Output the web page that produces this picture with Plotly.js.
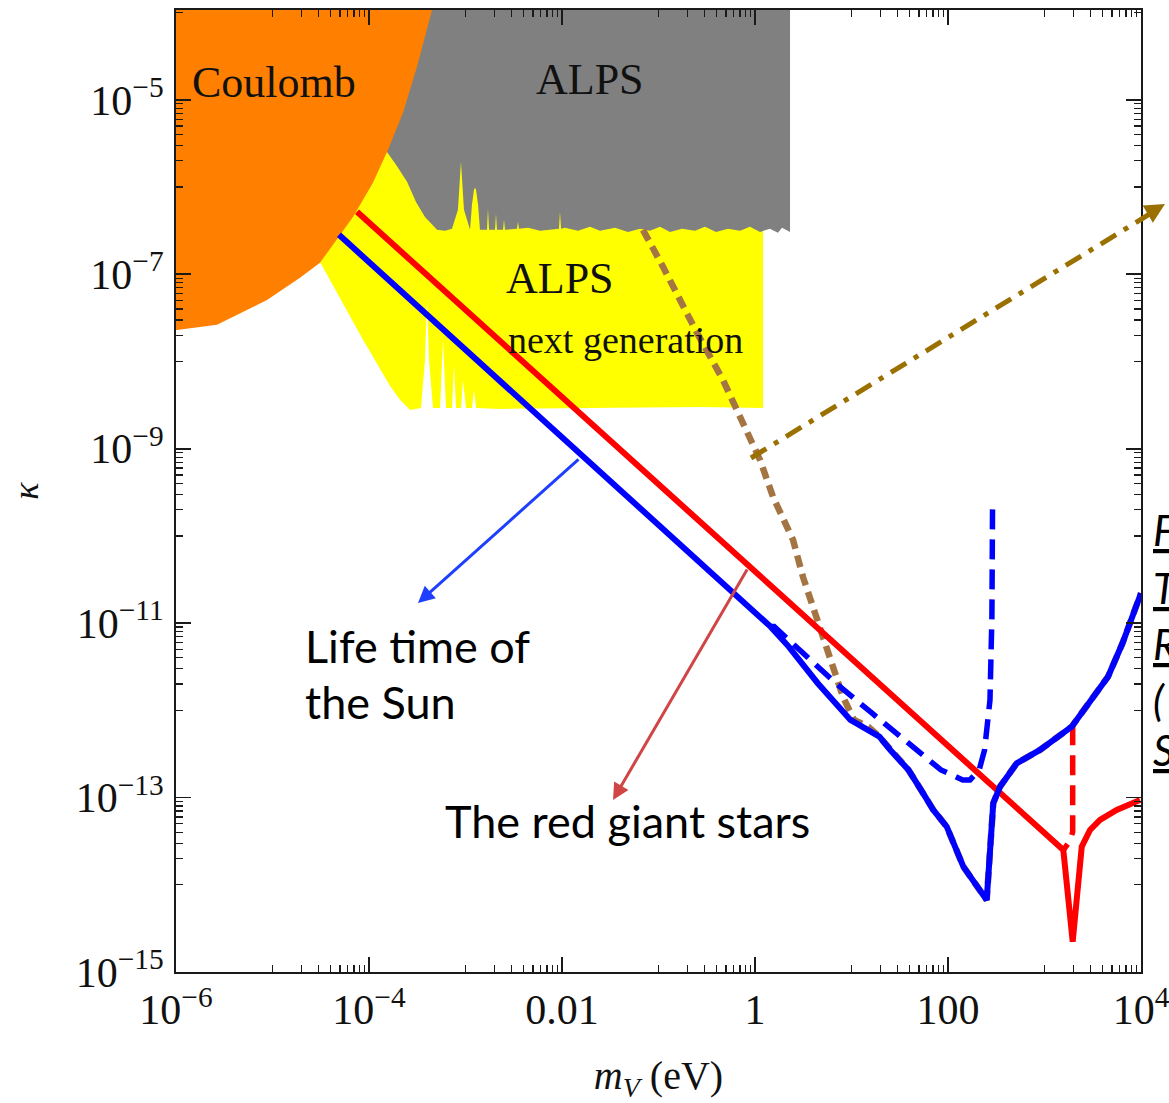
<!DOCTYPE html>
<html>
<head>
<meta charset="utf-8">
<script src="https://cdn.plot.ly/plotly-3.0.1.min.js"></script>
<style>
  html, body { margin: 0; padding: 0; background: #fff; }
  #chart { width: 1169px; height: 1103px; }
</style>
</head>
<body>
<div id="chart"></div>
<script>
// ---- Data (log10 of m_V in eV, log10 of kappa) ----

// Coulomb excluded region (orange)
const coulombLogM = [-7, -5.99, -5.575, -5.409, -5.057, -4.715, -4.508, -4.166, -3.959, -3.803, -3.648, -3.503, -3.347, -3.264, -7];
const coulombLogK = [-7.64, -7.638, -7.580, -7.489, -7.294, -7.041, -6.869, -6.342, -5.952, -5.573, -5.149, -4.622, -3.968, -3.62, -3.62];

// ALPS excluded region (grey)
const alpsLogM = [0.363, 0.363, 0.280, 0.238, 0.155, 0.052, -0.052, -0.155, -0.280, -0.404, -0.518, -0.622, -0.756, -0.881, -0.984, -1.088, -1.192, -1.316, -1.451, -1.606, -1.710, -1.834, -1.969, -2.010, -2.021, -2.031, -2.228, -2.352, -2.446, -2.456, -2.466, -2.591, -2.601, -2.611, -2.674, -2.684, -2.694, -2.756, -2.767, -2.777, -2.850, -2.870, -2.891, -2.902, -2.912, -2.933, -2.953, -3.016, -3.047, -3.078, -3.140, -3.212, -3.295, -3.420, -3.513, -3.606, -3.720, -3.845, -3.990, -4.301, -4.404];
const alpsLogK = [-3.5, -6.514, -6.468, -6.525, -6.479, -6.514, -6.456, -6.502, -6.479, -6.514, -6.456, -6.502, -6.479, -6.514, -6.456, -6.502, -6.479, -6.514, -6.468, -6.502, -6.456, -6.502, -6.468, -6.479, -6.284, -6.479, -6.502, -6.468, -6.479, -6.399, -6.479, -6.491, -6.376, -6.491, -6.491, -6.307, -6.491, -6.491, -6.250, -6.491, -6.491, -6.204, -6.032, -6.009, -6.032, -6.204, -6.491, -6.261, -5.711, -6.261, -6.479, -6.502, -6.491, -6.342, -6.170, -5.940, -5.745, -5.550, -5.000, -3.968, -3.509];

// ALPS next generation reach (yellow)
const alpsNgLogM = [0.083, 0.083, -0.570, -1.606, -2.642, -2.891, -2.912, -2.933, -2.995, -3.026, -3.047, -3.098, -3.119, -3.140, -3.202, -3.233, -3.264, -3.337, -3.378, -3.399, -3.420, -3.461, -3.575, -3.679, -3.782, -4.062, -4.508, -4.715, -4.404];
const alpsNgLogK = [-5.229, -8.532, -8.521, -8.532, -8.544, -8.532, -8.326, -8.532, -8.532, -8.211, -8.532, -8.532, -8.039, -8.532, -8.532, -7.752, -8.532, -8.532, -7.982, -7.294, -7.982, -8.532, -8.555, -8.440, -8.280, -7.752, -6.858, -6.548, -5.229];

// Red giant stars bound (red solid)
const redGiantLogM = [-4.124, 3.195, 3.292, 3.386, 3.472, 3.575, 3.748, 3.990];
const redGiantLogK = [-6.284, -13.601, -14.653, -13.563, -13.372, -13.257, -13.142, -13.028];

// Red giant, dashed branch
const redDashLogM = [3.292, 3.292, 3.264, 3.212, 3.195];
const redDashLogK = [-12.17, -13.394, -13.498, -13.578, -13.601];

// Lifetime of the Sun bound (blue solid)
const sunLogM = [-4.311, 0.0, 0.161, 0.349, 0.650, 0.989, 1.101, 1.289, 1.402, 1.590, 1.741, 1.848, 1.987, 2.159, 2.401, 2.469, 2.539, 2.712, 2.953, 3.282, 3.658, 3.808, 4.0];
const sunLogK = [-6.548, -10.86, -11.040, -11.269, -11.689, -12.110, -12.187, -12.302, -12.454, -12.683, -12.949, -13.142, -13.334, -13.792, -14.174, -13.065, -12.875, -12.607, -12.454, -12.187, -11.614, -11.231, -10.657];

// Sun, dashed branch (blue dashed)
const sunDashLogM = [0.161, 0.199, 0.500, 0.837, 1.213, 1.590, 1.927, 2.153, 2.228, 2.323, 2.379, 2.435, 2.455, 2.462];
const sunDashLogK = [-11.040, -11.040, -11.345, -11.689, -12.033, -12.377, -12.683, -12.798, -12.798, -12.683, -12.454, -11.881, -10.925, -9.587];

// Brown dotted bound
const brownLogM = [-1.161, -0.953, -0.601, -0.332, -0.155, 0.052, 0.187, 0.394, 0.497, 0.650, 0.798, 0.912, 1.026, 1.176, 1.289, 1.402, 1.590, 1.741, 1.848, 1.987, 2.159, 2.401, 2.469, 2.539, 2.712, 2.953, 3.282, 3.658, 3.808, 4.0];
const brownLogK = [-6.491, -6.915, -7.672, -8.211, -8.635, -9.128, -9.553, -10.046, -10.470, -10.998, -11.456, -11.846, -12.110, -12.190, -12.302, -12.454, -12.683, -12.949, -13.142, -13.334, -13.792, -14.174, -13.065, -12.875, -12.607, -12.454, -12.187, -11.614, -11.231, -10.657];

// Axis ticks
const xTickVals = [1e-6, 1e-4, 1e-2, 1, 100, 1e4];
const xTickText = ['10<sup>−6</sup>', '10<sup>−4</sup>', '0.01', '1', '100', '10<sup>4</sup>'];
const yTickVals = [1e-15, 1e-13, 1e-11, 1e-9, 1e-7, 1e-5];
const yTickText = ['10<sup>−15</sup>', '10<sup>−13</sup>', '10<sup>−11</sup>', '10<sup>−9</sup>', '10<sup>−7</sup>', '10<sup>−5</sup>'];
const xMinorDecades = [-5, -3, -1, 1, 3];
const yMinorDecades = [-14, -12, -10, -8, -6, -4];
const minorMultipliers = [1, 2, 3, 4, 5, 6, 7, 8, 9];

// ---- Build ----
const p10 = a => a.map(v => Math.pow(10, v));
const minorVals = decs => { const out = []; decs.forEach(d => minorMultipliers.forEach(j => out.push(j * Math.pow(10, d)))); return out; };

const SERIF = 'Liberation Serif, Times New Roman, serif';
const SANS = 'Lato, Open Sans, sans-serif';

function fillTrace(lx, ly, color) {
  return { x: p10(lx), y: p10(ly), mode: 'lines', fill: 'toself', fillcolor: color,
           line: { width: 0, color: color }, hoverinfo: 'skip', showlegend: false };
}
function lineTrace(lx, ly, color, width, dash) {
  return { x: p10(lx), y: p10(ly), mode: 'lines', line: { color: color, width: width, dash: dash || 'solid' },
           hoverinfo: 'skip', showlegend: false };
}

const traces = [
  fillTrace(alpsNgLogM, alpsNgLogK, '#FFFF00'),
  fillTrace(alpsLogM, alpsLogK, '#808080'),
  fillTrace(coulombLogM, coulombLogK, '#FF8000'),
  lineTrace(brownLogM, brownLogK, '#A57443', 6.5, '12px,7px'),
  lineTrace(redDashLogM, redDashLogK, '#FF0000', 5.5, '20px,10px'),
  lineTrace(sunDashLogM, sunDashLogK, '#0000FF', 5.5, '20px,10px'),
  lineTrace(redGiantLogM, redGiantLogK, '#FF0000', 6),
  lineTrace(sunLogM, sunLogK, '#0000FF', 6)
];

// paper coordinates from pixel positions of the figure frame
const L = 176, R = 1141, T = 10, B = 972;
const px = v => (v - L) / (R - L);
const py = v => (B - v) / (B - T);

const axisCommon = {
  type: 'log', showgrid: false, zeroline: false,
  showline: true, linecolor: '#1a1a1a', linewidth: 2, mirror: 'ticks',
  ticks: 'inside', ticklen: 15, tickwidth: 1.6, tickcolor: '#1a1a1a',
  tickfont: { family: SERIF, size: 42, color: '#111' },
  tickmode: 'array', ticklabeloverflow: 'allow'
};

const layout = {
  width: 1169, height: 1103,
  margin: { l: L, r: 1169 - R, t: T, b: 1103 - B, pad: 0 },
  paper_bgcolor: '#ffffff', plot_bgcolor: '#ffffff',
  showlegend: false,
  xaxis: Object.assign({}, axisCommon, {
    range: [-6, 4], tickvals: xTickVals, ticktext: xTickText, ticklabelstandoff: 0,
    minor: { tickmode: 'array', tickvals: minorVals(xMinorDecades), ticks: 'inside', ticklen: 7, tickwidth: 1.3, tickcolor: '#1a1a1a', showgrid: false },
    title: { text: '<i>m</i><sub><i>V</i></sub> (eV)', font: { family: SERIF, size: 40, color: '#111' }, standoff: 36 }
  }),
  yaxis: Object.assign({}, axisCommon, {
    range: [-15, -3.97], tickvals: yTickVals, ticktext: yTickText, ticklabelstandoff: 2,
    minor: { tickmode: 'array', tickvals: minorVals(yMinorDecades), ticks: 'inside', ticklen: 7, tickwidth: 1.3, tickcolor: '#1a1a1a', showgrid: false },
    title: { text: '<i>κ</i>', font: { family: SERIF, size: 36, color: '#111' }, standoff: 26 }
  }),
  shapes: [
    { type: 'line', xref: 'paper', yref: 'paper', x0: px(751), y0: py(458), x1: px(1158), y1: py(209),
      line: { color: '#9A7000', width: 5, dash: '18px,9px,5px,9px' } }
  ],
  annotations: [
    { xref: 'paper', yref: 'paper', x: px(190), y: py(82), xanchor: 'left', yanchor: 'middle', showarrow: false,
      text: 'Coulomb', font: { family: SERIF, size: 44, color: '#111' } },
    { xref: 'paper', yref: 'paper', x: px(590), y: py(80), xanchor: 'center', yanchor: 'middle', showarrow: false,
      text: 'ALPS', font: { family: SERIF, size: 44, color: '#111' } },
    { xref: 'paper', yref: 'paper', x: px(560), y: py(278), xanchor: 'center', yanchor: 'middle', showarrow: false,
      text: 'ALPS', font: { family: SERIF, size: 44, color: '#111' } },
    { xref: 'paper', yref: 'paper', x: px(625), y: py(340), xanchor: 'center', yanchor: 'middle', showarrow: false,
      text: 'next generation', font: { family: SERIF, size: 38, color: '#111' } },
    { xref: 'paper', yref: 'paper', x: px(303), y: py(646), xanchor: 'left', yanchor: 'middle', showarrow: false,
      text: 'Life time of', font: { family: SANS, size: 45, color: '#000' } },
    { xref: 'paper', yref: 'paper', x: px(303), y: py(702), xanchor: 'left', yanchor: 'middle', showarrow: false,
      text: 'the Sun', font: { family: SANS, size: 45, color: '#000' } },
    { xref: 'paper', yref: 'paper', x: px(443), y: py(821), xanchor: 'left', yanchor: 'middle', showarrow: false,
      text: 'The red giant stars', font: { family: SANS, size: 45, color: '#000' } },
    // arrows
    { xref: 'paper', yref: 'paper', x: px(418), y: py(603), ax: 162, ay: -145,
      showarrow: true, arrowhead: 2, arrowsize: 1.1, arrowwidth: 3, arrowcolor: '#1F3FFF', text: '' },
    { xref: 'paper', yref: 'paper', x: px(613), y: py(800), ax: 135, ay: -232,
      showarrow: true, arrowhead: 2, arrowsize: 1.1, arrowwidth: 3, arrowcolor: '#D04545', text: '' },
    { xref: 'paper', yref: 'paper', x: px(1165), y: py(204), ax: -17, ay: 10,
      showarrow: true, arrowhead: 2, arrowsize: 1, arrowwidth: 4, arrowcolor: '#9A7000', text: '' },
    // cut-off slide text at right edge (cropped in the original image)
    { xref: 'paper', yref: 'paper', x: px(1151), y: py(530), xanchor: 'left', yanchor: 'middle', showarrow: false,
      text: '<i><u>F</u></i>', font: { family: SANS, size: 42, color: '#000' } },
    { xref: 'paper', yref: 'paper', x: px(1151), y: py(588), xanchor: 'left', yanchor: 'middle', showarrow: false,
      text: '<i><u>T</u></i>', font: { family: SANS, size: 42, color: '#000' } },
    { xref: 'paper', yref: 'paper', x: px(1151), y: py(644), xanchor: 'left', yanchor: 'middle', showarrow: false,
      text: '<i><u>R</u></i>', font: { family: SANS, size: 42, color: '#000' } },
    { xref: 'paper', yref: 'paper', x: px(1151), y: py(700), xanchor: 'left', yanchor: 'middle', showarrow: false,
      text: '<i><u>(</u></i>', font: { family: SANS, size: 42, color: '#000' } },
    { xref: 'paper', yref: 'paper', x: px(1151), y: py(750), xanchor: 'left', yanchor: 'middle', showarrow: false,
      text: '<i><u>S</u></i>', font: { family: SANS, size: 42, color: '#000' } }
  ]
};

Plotly.newPlot('chart', traces, layout, { staticPlot: true, displayModeBar: false });
</script>
</body>
</html>
